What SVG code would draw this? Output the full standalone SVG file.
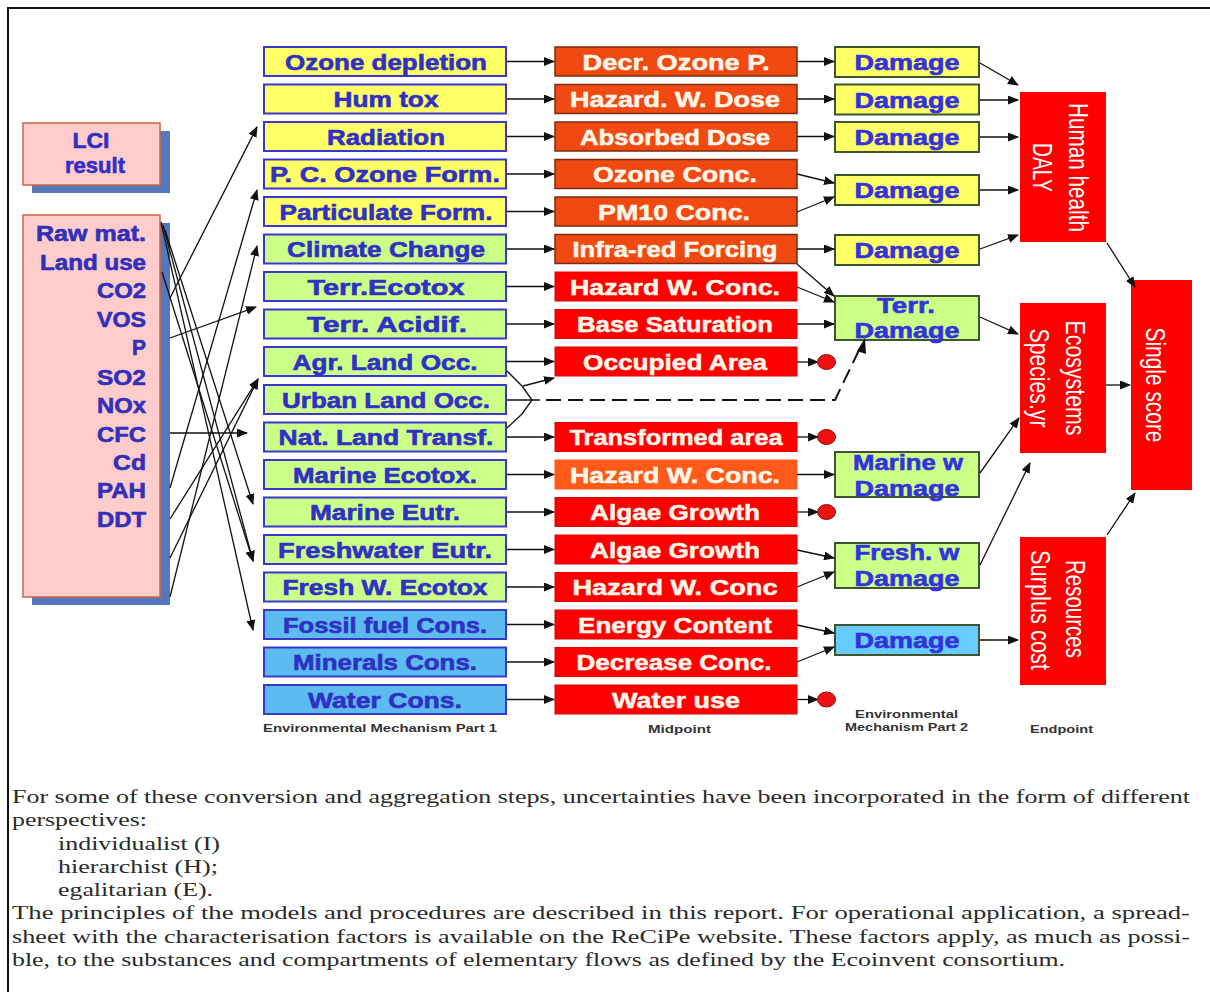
<svg xmlns="http://www.w3.org/2000/svg" width="1210" height="992" viewBox="0 0 1210 992">
  <defs>
    <marker id="ah" markerUnits="userSpaceOnUse" markerWidth="11" markerHeight="9" refX="10" refY="4.5" orient="auto">
      <path d="M0,0 L11,4.5 L0,9 z" fill="#111"/>
    </marker>
    <style>
      .c1 { stroke: #3838d0; stroke-width: 2; }
      .yel { fill: #ffff66; }
      .grn { fill: #ccff88; }
      .blu { fill: #5cbcf0; }
      .blu3 { fill: #66ccff; }
      .c3 { stroke: #3f5530; stroke-width: 2; }
      .mo { fill: #f04a12; stroke: #7a2a10; stroke-width: 1.5; }
      .mo2 { fill: #ff5a1a; stroke: #ff5a1a; stroke-width: 1; }
      .mr { fill: #ff0000; stroke: #e00000; stroke-width: 1; }
      .end { fill: #ff0000; }
      .t1 { font-family: "Liberation Sans", Arial, sans-serif; font-weight: bold; font-size: 22px; fill: #3030c4; stroke: #3030c4; stroke-width: 0.6; text-anchor: middle; }
      .t2 { font-family: "Liberation Sans", Arial, sans-serif; font-weight: bold; font-size: 22px; fill: #fff6ea; stroke: #fff6ea; stroke-width: 0.5; text-anchor: middle; }
      .t3 { font-family: "Liberation Sans", Arial, sans-serif; font-weight: bold; font-size: 22px; fill: #3333dd; stroke: #3333dd; stroke-width: 0.6; text-anchor: middle; }
      .tl { font-family: "Liberation Sans", Arial, sans-serif; font-weight: bold; font-size: 22px; fill: #3030b8; stroke: #3030b8; stroke-width: 0.6; text-anchor: end; }
      .tv { font-family: "Liberation Sans", Arial, sans-serif; font-size: 28px; fill: #ffffff; text-anchor: middle; }
      .lab { font-family: "Liberation Sans", Arial, sans-serif; font-weight: bold; font-size: 11px; fill: #333333; }
      .body { font-family: "Liberation Serif", "Times New Roman", serif; font-size: 19px; fill: #2a2a2a; }
      .conn { stroke: #111; stroke-width: 1.3; fill: none; marker-end: url(#ah); }
      .plain { stroke: #111; stroke-width: 1.3; fill: none; }
      .dash { stroke: #111; stroke-width: 2; fill: none; stroke-dasharray: 15 7; }
      .dot { fill: #ee1111; stroke: #881111; stroke-width: 1; }
    </style>
  </defs>

  <rect x="0" y="0" width="1210" height="992" fill="#ffffff"/>
  <!-- page frame -->
  <rect x="8" y="8" width="1210" height="1000" fill="none" stroke="#111" stroke-width="2"/>

  <!-- LCI boxes -->
  <g id="lci-result">
    <rect x="32" y="131" width="138" height="62" fill="#5577bb"/>
    <rect x="23" y="123" width="137" height="62" fill="#ffcccc" stroke="#cc6644" stroke-width="1.5"/>
    <text class="t1" x="91" y="148" textLength="37" lengthAdjust="spacingAndGlyphs">LCI</text>
    <text class="t1" x="95" y="173" textLength="60" lengthAdjust="spacingAndGlyphs">result</text>
  </g>
  <g id="lci-flows">
    <rect x="32" y="223" width="138" height="382" fill="#5577bb"/>
    <rect x="23" y="215" width="137" height="382" fill="#ffcccc" stroke="#cc6644" stroke-width="1.5"/>
    <text class="tl" x="146" y="241" textLength="110" lengthAdjust="spacingAndGlyphs">Raw mat.</text>
    <text class="tl" x="146" y="270" textLength="106" lengthAdjust="spacingAndGlyphs">Land use</text>
    <text class="tl" x="146" y="298" textLength="49" lengthAdjust="spacingAndGlyphs">CO2</text>
    <text class="tl" x="146" y="327" textLength="49" lengthAdjust="spacingAndGlyphs">VOS</text>
    <text class="tl" x="146" y="355" textLength="14" lengthAdjust="spacingAndGlyphs">P</text>
    <text class="tl" x="146" y="385" textLength="49" lengthAdjust="spacingAndGlyphs">SO2</text>
    <text class="tl" x="146" y="413" textLength="49" lengthAdjust="spacingAndGlyphs">NOx</text>
    <text class="tl" x="146" y="442" textLength="49" lengthAdjust="spacingAndGlyphs">CFC</text>
    <text class="tl" x="146" y="470" textLength="33" lengthAdjust="spacingAndGlyphs">Cd</text>
    <text class="tl" x="146" y="498" textLength="49" lengthAdjust="spacingAndGlyphs">PAH</text>
    <text class="tl" x="146" y="527" textLength="49" lengthAdjust="spacingAndGlyphs">DDT</text>
  </g>

  <!-- Environmental mechanism part 1 -->
  <g id="m1-ozone"><rect class="c1 yel" x="264" y="47" width="242" height="29"/><text class="t1" x="386" y="69.5" textLength="202" lengthAdjust="spacingAndGlyphs">Ozone depletion</text></g>
  <g id="m1-humtox"><rect class="c1 yel" x="264" y="84.5" width="242" height="29"/><text class="t1" x="386" y="107" textLength="105" lengthAdjust="spacingAndGlyphs">Hum tox</text></g>
  <g id="m1-radiation"><rect class="c1 yel" x="264" y="122" width="242" height="29"/><text class="t1" x="386" y="144.5" textLength="118" lengthAdjust="spacingAndGlyphs">Radiation</text></g>
  <g id="m1-pcozone"><rect class="c1 yel" x="264" y="159.5" width="242" height="29"/><text class="t1" x="385" y="182" textLength="230" lengthAdjust="spacingAndGlyphs">P. C. Ozone Form.</text></g>
  <g id="m1-particulate"><rect class="c1 yel" x="264" y="197" width="242" height="29"/><text class="t1" x="386" y="219.5" textLength="213" lengthAdjust="spacingAndGlyphs">Particulate Form.</text></g>
  <g id="m1-climate"><rect class="c1 grn" x="264" y="234.5" width="242" height="29"/><text class="t1" x="386" y="257" textLength="198" lengthAdjust="spacingAndGlyphs">Climate Change</text></g>
  <g id="m1-terrecotox"><rect class="c1 grn" x="264" y="272" width="242" height="29"/><text class="t1" x="386" y="294.5" textLength="157" lengthAdjust="spacingAndGlyphs">Terr.Ecotox</text></g>
  <g id="m1-terracid"><rect class="c1 grn" x="264" y="309.5" width="242" height="29"/><text class="t1" x="387" y="332" textLength="160" lengthAdjust="spacingAndGlyphs">Terr. Acidif.</text></g>
  <g id="m1-agrland"><rect class="c1 grn" x="264" y="347" width="242" height="29"/><text class="t1" x="385" y="369.5" textLength="185" lengthAdjust="spacingAndGlyphs">Agr. Land Occ.</text></g>
  <g id="m1-urbanland"><rect class="c1 grn" x="264" y="385" width="242" height="29"/><text class="t1" x="386" y="407.5" textLength="208" lengthAdjust="spacingAndGlyphs">Urban Land Occ.</text></g>
  <g id="m1-natland"><rect class="c1 grn" x="264" y="422.5" width="242" height="29"/><text class="t1" x="386" y="445" textLength="215" lengthAdjust="spacingAndGlyphs">Nat. Land Transf.</text></g>
  <g id="m1-marineecotox"><rect class="c1 grn" x="264" y="460" width="242" height="29"/><text class="t1" x="385" y="482.5" textLength="184" lengthAdjust="spacingAndGlyphs">Marine Ecotox.</text></g>
  <g id="m1-marineeutr"><rect class="c1 grn" x="264" y="497.5" width="242" height="29"/><text class="t1" x="385" y="520" textLength="150" lengthAdjust="spacingAndGlyphs">Marine Eutr.</text></g>
  <g id="m1-fresheutr"><rect class="c1 grn" x="264" y="535" width="242" height="29"/><text class="t1" x="385" y="557.5" textLength="214" lengthAdjust="spacingAndGlyphs">Freshwater Eutr.</text></g>
  <g id="m1-freshecotox"><rect class="c1 grn" x="264" y="572.5" width="242" height="29"/><text class="t1" x="385" y="595" textLength="205" lengthAdjust="spacingAndGlyphs">Fresh W. Ecotox</text></g>
  <g id="m1-fossil"><rect class="c1 blu" x="264" y="610" width="242" height="29"/><text class="t1" x="385" y="632.5" textLength="204" lengthAdjust="spacingAndGlyphs">Fossil fuel Cons.</text></g>
  <g id="m1-minerals"><rect class="c1 blu" x="264" y="647.5" width="242" height="29"/><text class="t1" x="385" y="670" textLength="184" lengthAdjust="spacingAndGlyphs">Minerals Cons.</text></g>
  <g id="m1-water"><rect class="c1 blu" x="264" y="685" width="242" height="29"/><text class="t1" x="385" y="707.5" textLength="154" lengthAdjust="spacingAndGlyphs">Water Cons.</text></g>

  <!-- Midpoints -->
  <g id="mp-ozone"><rect class="mo" x="555" y="47" width="242" height="29"/><text class="t2" x="676" y="69.5" textLength="187" lengthAdjust="spacingAndGlyphs">Decr. Ozone P.</text></g>
  <g id="mp-dose"><rect class="mo" x="555" y="84.5" width="242" height="29"/><text class="t2" x="675" y="107" textLength="210" lengthAdjust="spacingAndGlyphs">Hazard. W. Dose</text></g>
  <g id="mp-absorbed"><rect class="mo" x="555" y="122" width="242" height="29"/><text class="t2" x="675" y="144.5" textLength="190" lengthAdjust="spacingAndGlyphs">Absorbed Dose</text></g>
  <g id="mp-ozoneconc"><rect class="mo" x="555" y="159.5" width="242" height="29"/><text class="t2" x="675" y="182" textLength="164" lengthAdjust="spacingAndGlyphs">Ozone Conc.</text></g>
  <g id="mp-pm10"><rect class="mo" x="555" y="197" width="242" height="29"/><text class="t2" x="674" y="219.5" textLength="152" lengthAdjust="spacingAndGlyphs">PM10 Conc.</text></g>
  <g id="mp-infrared"><rect class="mo" x="555" y="234.5" width="242" height="29"/><text class="t2" x="675" y="257" textLength="205" lengthAdjust="spacingAndGlyphs">Infra-red Forcing</text></g>
  <g id="mp-terrhazard"><rect class="mr" x="555" y="272" width="242" height="29"/><text class="t2" x="675" y="294.5" textLength="210" lengthAdjust="spacingAndGlyphs">Hazard W. Conc.</text></g>
  <g id="mp-basesat"><rect class="mr" x="555" y="309.5" width="242" height="29"/><text class="t2" x="675" y="332" textLength="196" lengthAdjust="spacingAndGlyphs">Base Saturation</text></g>
  <g id="mp-occupied"><rect class="mr" x="555" y="347" width="242" height="29"/><text class="t2" x="675" y="369.5" textLength="184" lengthAdjust="spacingAndGlyphs">Occupied Area</text></g>
  <g id="mp-transformed"><rect class="mr" x="555" y="422.5" width="242" height="29"/><text class="t2" x="676" y="445" textLength="213" lengthAdjust="spacingAndGlyphs">Transformed area</text></g>
  <g id="mp-marinehazard"><rect class="mo2" x="555" y="460" width="242" height="29"/><text class="t2" x="675" y="482.5" textLength="210" lengthAdjust="spacingAndGlyphs">Hazard W. Conc.</text></g>
  <g id="mp-algae1"><rect class="mr" x="555" y="497.5" width="242" height="29"/><text class="t2" x="675" y="520" textLength="170" lengthAdjust="spacingAndGlyphs">Algae Growth</text></g>
  <g id="mp-algae2"><rect class="mr" x="555" y="535" width="242" height="29"/><text class="t2" x="675" y="557.5" textLength="170" lengthAdjust="spacingAndGlyphs">Algae Growth</text></g>
  <g id="mp-freshhazard"><rect class="mr" x="555" y="572.5" width="242" height="29"/><text class="t2" x="675" y="595" textLength="205" lengthAdjust="spacingAndGlyphs">Hazard W. Conc</text></g>
  <g id="mp-energy"><rect class="mr" x="555" y="610" width="242" height="29"/><text class="t2" x="675" y="632.5" textLength="194" lengthAdjust="spacingAndGlyphs">Energy Content</text></g>
  <g id="mp-decrease"><rect class="mr" x="555" y="647.5" width="242" height="29"/><text class="t2" x="674" y="670" textLength="195" lengthAdjust="spacingAndGlyphs">Decrease Conc.</text></g>
  <g id="mp-wateruse"><rect class="mr" x="555" y="685" width="242" height="29"/><text class="t2" x="676" y="707.5" textLength="128" lengthAdjust="spacingAndGlyphs">Water use</text></g>

  <!-- Environmental mechanism part 2 -->
  <g id="d-ozone"><rect class="c3 yel" x="835" y="47" width="144" height="30"/><text class="t3" x="907" y="70" textLength="105" lengthAdjust="spacingAndGlyphs">Damage</text></g>
  <g id="d-tox"><rect class="c3 yel" x="835" y="84.5" width="144" height="30"/><text class="t3" x="907" y="107.5" textLength="105" lengthAdjust="spacingAndGlyphs">Damage</text></g>
  <g id="d-rad"><rect class="c3 yel" x="835" y="122" width="144" height="30"/><text class="t3" x="907" y="145" textLength="105" lengthAdjust="spacingAndGlyphs">Damage</text></g>
  <g id="d-air"><rect class="c3 yel" x="835" y="175" width="144" height="30"/><text class="t3" x="907" y="198" textLength="105" lengthAdjust="spacingAndGlyphs">Damage</text></g>
  <g id="d-climate"><rect class="c3 yel" x="835" y="235" width="144" height="30"/><text class="t3" x="907" y="258" textLength="105" lengthAdjust="spacingAndGlyphs">Damage</text></g>
  <g id="d-terr"><rect class="c3 grn" x="835" y="296" width="144" height="44"/><text class="t3" x="906" y="313" textLength="58" lengthAdjust="spacingAndGlyphs">Terr.</text><text class="t3" x="907" y="338" textLength="105" lengthAdjust="spacingAndGlyphs">Damage</text></g>
  <g id="d-marine"><rect class="c3 grn" x="835" y="452" width="144" height="45"/><text class="t3" x="908" y="470" textLength="110" lengthAdjust="spacingAndGlyphs">Marine w</text><text class="t3" x="907" y="496" textLength="105" lengthAdjust="spacingAndGlyphs">Damage</text></g>
  <g id="d-fresh"><rect class="c3 grn" x="835" y="543" width="144" height="45"/><text class="t3" x="907" y="560" textLength="105" lengthAdjust="spacingAndGlyphs">Fresh. w</text><text class="t3" x="907" y="586" textLength="105" lengthAdjust="spacingAndGlyphs">Damage</text></g>
  <g id="d-resources"><rect class="c3 blu3" x="835" y="625" width="144" height="30"/><text class="t3" x="907" y="648" textLength="105" lengthAdjust="spacingAndGlyphs">Damage</text></g>

  <!-- Endpoints -->
  <g id="ep-human"><rect class="end" x="1020" y="92" width="86" height="150"/>
    <text class="tv" transform="translate(1069,167.5) rotate(90)" textLength="129" lengthAdjust="spacingAndGlyphs">Human health</text>
    <text class="tv" transform="translate(1033,167.5) rotate(90)" textLength="49" lengthAdjust="spacingAndGlyphs">DALY</text></g>
  <g id="ep-eco"><rect class="end" x="1020" y="303" width="86" height="150"/>
    <text class="tv" transform="translate(1066,378) rotate(90)" textLength="115" lengthAdjust="spacingAndGlyphs">Ecosystems</text>
    <text class="tv" transform="translate(1030,378) rotate(90)" textLength="99" lengthAdjust="spacingAndGlyphs">Species.yr</text></g>
  <g id="ep-resources"><rect class="end" x="1020" y="537" width="86" height="148"/>
    <text class="tv" transform="translate(1066,609) rotate(90)" textLength="98" lengthAdjust="spacingAndGlyphs">Resources</text>
    <text class="tv" transform="translate(1031,610) rotate(90)" textLength="120" lengthAdjust="spacingAndGlyphs">Surplus cost</text></g>
  <g id="ep-single"><rect class="end" x="1131" y="280" width="61" height="210"/>
    <text class="tv" transform="translate(1146,385) rotate(90)" textLength="115" lengthAdjust="spacingAndGlyphs">Single score</text></g>

  <!-- Connectors -->
  <g id="connectors">
    <!-- inventory flows to mechanisms -->
    <line class="conn" x1="170" y1="298" x2="257" y2="127"/>
    <line class="conn" x1="170" y1="488" x2="257" y2="190"/>
    <line class="conn" x1="170" y1="597" x2="257" y2="246"/>
    <line class="conn" x1="170" y1="338" x2="256" y2="307"/>
    <line class="conn" x1="170" y1="519" x2="258" y2="379"/>
    <line class="conn" x1="170" y1="558" x2="258" y2="379"/>
    <line class="conn" x1="170" y1="433" x2="247" y2="433"/>
    <line class="conn" x1="165" y1="230" x2="253" y2="504"/>
    <line class="conn" x1="162" y1="272" x2="253" y2="561"/>
    <line class="conn" x1="163" y1="225" x2="253" y2="561"/>
    <line class="conn" x1="161" y1="222" x2="253" y2="630"/>

    <!-- mechanism part 1 to midpoints -->
    <line class="conn" x1="507" y1="61.5" x2="554" y2="61.5"/>
    <line class="conn" x1="507" y1="99" x2="554" y2="99"/>
    <line class="conn" x1="507" y1="136.5" x2="554" y2="136.5"/>
    <line class="conn" x1="507" y1="174" x2="554" y2="174"/>
    <line class="conn" x1="507" y1="211.5" x2="554" y2="211.5"/>
    <line class="conn" x1="507" y1="249" x2="554" y2="249"/>
    <line class="conn" x1="507" y1="286.5" x2="554" y2="286.5"/>
    <line class="conn" x1="507" y1="324" x2="554" y2="324"/>
    <line class="conn" x1="507" y1="361.5" x2="554" y2="361.5"/>
    <line class="conn" x1="507" y1="437" x2="554" y2="437"/>
    <line class="conn" x1="507" y1="474.5" x2="554" y2="474.5"/>
    <line class="conn" x1="507" y1="512" x2="554" y2="512"/>
    <line class="conn" x1="507" y1="549.5" x2="554" y2="549.5"/>
    <line class="conn" x1="507" y1="587" x2="554" y2="587"/>
    <line class="conn" x1="507" y1="624.5" x2="554" y2="624.5"/>
    <line class="conn" x1="507" y1="662" x2="554" y2="662"/>
    <line class="conn" x1="507" y1="699.5" x2="554" y2="699.5"/>

    <!-- land occupation / transformation junction -->
    <line class="plain" x1="507" y1="371" x2="522" y2="386"/>
    <line class="plain" x1="507" y1="428" x2="522" y2="414"/>
    <path class="plain" d="M522,386 L532,400 L522,414"/>
    <line class="plain" x1="507" y1="400" x2="540" y2="400"/>
    <line class="conn" x1="523" y1="386" x2="554" y2="378"/>
    <path class="dash" d="M546,400 L835,400 L861,346"/>
    <path d="M857,351 L865,338 L866,354 z" fill="#111"/>

    <!-- midpoints to mechanism part 2 -->
    <line class="conn" x1="797" y1="61.5" x2="834" y2="61.5"/>
    <line class="conn" x1="797" y1="99" x2="834" y2="99"/>
    <line class="conn" x1="797" y1="136.5" x2="834" y2="136.5"/>
    <line class="conn" x1="797" y1="174" x2="834" y2="183"/>
    <line class="conn" x1="797" y1="212" x2="834" y2="197"/>
    <line class="conn" x1="797" y1="249" x2="834" y2="249"/>
    <line class="conn" x1="797" y1="264" x2="834" y2="296"/>
    <line class="conn" x1="797" y1="287" x2="834" y2="302"/>
    <line class="conn" x1="797" y1="324" x2="834" y2="324"/>
    <line class="conn" x1="797" y1="474.5" x2="834" y2="474.5"/>
    <line class="conn" x1="797" y1="550" x2="834" y2="558"/>
    <line class="conn" x1="797" y1="587" x2="834" y2="572"/>
    <line class="conn" x1="797" y1="625" x2="834" y2="633"/>
    <line class="conn" x1="797" y1="662" x2="834" y2="647"/>

    <!-- midpoints without further damage modelling -->
    <line class="conn" x1="797" y1="362" x2="818" y2="362"/>
    <line class="conn" x1="797" y1="437" x2="818" y2="437"/>
    <line class="conn" x1="797" y1="512" x2="818" y2="512"/>
    <line class="conn" x1="797" y1="699.5" x2="818" y2="699.5"/>

    <!-- mechanism part 2 to endpoints -->
    <line class="conn" x1="980" y1="63" x2="1018" y2="85"/>
    <line class="conn" x1="980" y1="100" x2="1018" y2="100"/>
    <line class="conn" x1="980" y1="137" x2="1018" y2="137"/>
    <line class="conn" x1="980" y1="190" x2="1018" y2="190"/>
    <line class="conn" x1="980" y1="249" x2="1018" y2="235"/>
    <line class="conn" x1="980" y1="317" x2="1018" y2="334"/>
    <line class="conn" x1="980" y1="473" x2="1019" y2="418"/>
    <line class="conn" x1="980" y1="565" x2="1030" y2="463"/>
    <line class="conn" x1="980" y1="640" x2="1018" y2="640"/>

    <!-- endpoints to single score -->
    <line class="conn" x1="1107" y1="243" x2="1135" y2="287"/>
    <line class="conn" x1="1106" y1="385" x2="1130" y2="385"/>
    <line class="conn" x1="1107" y1="535" x2="1135" y2="493"/>
  </g>

  <g id="terminal-dots">
    <ellipse class="dot" cx="826.5" cy="362" rx="9" ry="7.5"/>
    <ellipse class="dot" cx="826.5" cy="437" rx="9" ry="7.5"/>
    <ellipse class="dot" cx="826.5" cy="512" rx="9" ry="7.5"/>
    <ellipse class="dot" cx="826.5" cy="699.5" rx="9" ry="7.5"/>
  </g>

  <!-- column captions -->
  <g id="captions">
    <text class="lab" x="263" y="732" textLength="234" lengthAdjust="spacingAndGlyphs">Environmental Mechanism Part 1</text>
    <text class="lab" x="648" y="733" textLength="63" lengthAdjust="spacingAndGlyphs">Midpoint</text>
    <text class="lab" x="855" y="718" textLength="103" lengthAdjust="spacingAndGlyphs">Environmental</text>
    <text class="lab" x="845" y="731" textLength="123" lengthAdjust="spacingAndGlyphs">Mechanism Part 2</text>
    <text class="lab" x="1030" y="733" textLength="63" lengthAdjust="spacingAndGlyphs">Endpoint</text>
  </g>

  <!-- report text below the figure -->
  <g id="body-text">
    <text class="body" x="12" y="803" textLength="1178" lengthAdjust="spacingAndGlyphs">For some of these conversion and aggregation steps, uncertainties have been incorporated in the form of different</text>
    <text class="body" x="12" y="826" textLength="135" lengthAdjust="spacingAndGlyphs">perspectives:</text>
    <text class="body" x="58" y="850" textLength="162" lengthAdjust="spacingAndGlyphs">individualist (I)</text>
    <text class="body" x="58" y="873" textLength="160" lengthAdjust="spacingAndGlyphs">hierarchist (H);</text>
    <text class="body" x="58" y="896" textLength="155" lengthAdjust="spacingAndGlyphs">egalitarian (E).</text>
    <text class="body" x="12" y="919" textLength="1178" lengthAdjust="spacingAndGlyphs">The principles of the models and procedures are described in this report. For operational application, a spread-</text>
    <text class="body" x="12" y="943" textLength="1178" lengthAdjust="spacingAndGlyphs">sheet with the characterisation factors is available on the ReCiPe website. These factors apply, as much as possi-</text>
    <text class="body" x="12" y="966" textLength="1053" lengthAdjust="spacingAndGlyphs">ble, to the substances and compartments of elementary flows as defined by the Ecoinvent consortium.</text>
  </g>
</svg>
